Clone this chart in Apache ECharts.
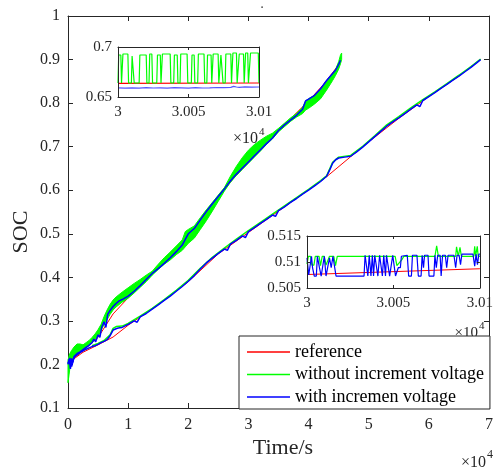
<!DOCTYPE html>
<html><head><meta charset="utf-8">
<script src="https://cdn.jsdelivr.net/npm/echarts@6/dist/echarts.min.js"></script>
<style>html,body{margin:0;padding:0;background:#fff}#c{width:496px;height:472px}</style>
</head><body><div id="c"></div>
<script>
// Main axes: time in units of 1e4 s, SOC
const xTickVals = [0,1,2,3,4,5,6,7];
const names = ['reference','without increment voltage','with incremen voltage'];

const redFast = [[0,0.203],[0.25,0.232],[0.5,0.262],[0.75,0.316],[1.0,0.353],[1.25,0.389],[1.5,0.424],[1.75,0.457],[2.0,0.496],[2.25,0.541],[2.5,0.585],[2.75,0.627],[3.0,0.664],[3.25,0.701],[3.5,0.740],[3.75,0.771],[4.0,0.805],[4.25,0.843],[4.5,0.888],[4.53,0.895]];
const redSlow = [[0,0.203],[0.25,0.228],[0.5,0.245],[0.75,0.263],[1.0,0.29],[1.5,0.337],[2.0,0.39],[2.5,0.454],[3.0,0.503],[3.5,0.552],[4.0,0.601],[4.3,0.631],[4.7,0.677],[5.0,0.711],[5.5,0.765],[6.0,0.815],[6.5,0.862],[6.86,0.9]];

// green (without increment voltage), fast charge: band envelope [x, lower, upper]
const greenFastBand = [[0,0.158,0.21],[0.03,0.19,0.225],[0.06,0.205,0.232],[0.1,0.215,0.24],[0.15,0.222,0.247],[0.2,0.228,0.247],[0.25,0.233,0.245],[0.3,0.238,0.25],[0.35,0.244,0.255],[0.4,0.25,0.262],[0.45,0.258,0.27],[0.5,0.265,0.28],[0.55,0.278,0.292],[0.6,0.292,0.31],[0.65,0.303,0.325],[0.7,0.315,0.338],[0.75,0.325,0.348],[0.8,0.332,0.355],[0.9,0.343,0.366],[1.0,0.352,0.376],[1.1,0.364,0.386],[1.2,0.377,0.395],[1.3,0.39,0.405],[1.4,0.405,0.414],[1.5,0.418,0.43],[1.6,0.43,0.445],[1.7,0.44,0.458],[1.8,0.452,0.472],[1.9,0.462,0.486],[1.95,0.47,0.505],[2.0,0.478,0.51],[2.1,0.49,0.518],[2.2,0.51,0.537],[2.3,0.53,0.555],[2.4,0.552,0.572],[2.5,0.575,0.589],[2.6,0.598,0.606],[2.7,0.618,0.632],[2.8,0.634,0.655],[2.9,0.648,0.675],[3.0,0.662,0.692],[3.1,0.676,0.705],[3.2,0.69,0.715],[3.3,0.705,0.724],[3.4,0.718,0.731],[3.5,0.734,0.742],[3.6,0.746,0.754],[3.7,0.758,0.766],[3.8,0.768,0.776],[3.9,0.776,0.79],[3.95,0.784,0.805],[4.0,0.788,0.81],[4.1,0.798,0.818],[4.2,0.81,0.832],[4.3,0.83,0.852],[4.4,0.852,0.868],[4.45,0.864,0.878],[4.5,0.878,0.895],[4.53,0.89,0.91],[4.55,0.9,0.915]];
const greenSlow = [[0.4,0.243],[0.5,0.248],[0.6,0.255],[0.7,0.268],[0.75,0.283],[0.8,0.287],[0.9,0.288],[1.0,0.294],[1.2,0.311],[1.4,0.329],[1.6,0.349],[1.8,0.37],[2.0,0.393],[2.2,0.421],[2.4,0.446],[2.6,0.467],[2.8,0.488],[3.0,0.507],[3.2,0.526],[3.4,0.545],[3.6,0.564],[3.8,0.583],[4.0,0.602],[4.2,0.622],[4.3,0.633],[4.4,0.664],[4.5,0.676],[4.7,0.680],[4.9,0.701],[5.1,0.725],[5.3,0.750],[5.5,0.769],[5.7,0.789],[5.9,0.808],[6.1,0.826],[6.3,0.845],[6.5,0.864],[6.7,0.884],[6.86,0.901]];

const blueFast = [[0,0.200],[0.02,0.212],[0.04,0.190],[0.06,0.214],[0.08,0.205],[0.1,0.218],[0.13,0.222],[0.16,0.226],[0.2,0.229],[0.25,0.234],[0.3,0.239],[0.35,0.244],[0.4,0.250],[0.43,0.258],[0.46,0.252],[0.5,0.268],[0.53,0.262],[0.56,0.285],[0.6,0.298],[0.63,0.285],[0.66,0.315],[0.7,0.324],[0.75,0.333],[0.8,0.340],[0.85,0.346],[0.9,0.349],[1.0,0.357],[1.1,0.368],[1.2,0.381],[1.3,0.395],[1.4,0.409],[1.5,0.420],[1.6,0.432],[1.7,0.445],[1.8,0.459],[1.9,0.474],[1.95,0.487],[2.0,0.500],[2.1,0.512],[2.2,0.532],[2.3,0.551],[2.4,0.569],[2.5,0.586],[2.6,0.603],[2.7,0.621],[2.8,0.637],[2.9,0.651],[3.0,0.665],[3.1,0.679],[3.2,0.693],[3.3,0.707],[3.4,0.720],[3.5,0.737],[3.6,0.750],[3.7,0.761],[3.8,0.772],[3.9,0.786],[3.95,0.805],[4.0,0.809],[4.1,0.818],[4.2,0.833],[4.3,0.852],[4.4,0.868],[4.45,0.876],[4.5,0.889],[4.53,0.898]];
const blueSlow = [[0,0.202],[0.03,0.215],[0.06,0.195],[0.1,0.216],[0.15,0.222],[0.2,0.227],[0.25,0.231],[0.3,0.235],[0.35,0.238],[0.4,0.241],[0.45,0.243],[0.5,0.246],[0.55,0.250],[0.6,0.253],[0.65,0.257],[0.7,0.266],[0.75,0.279],[0.78,0.281],[0.82,0.283],[0.86,0.284],[0.9,0.285],[1.0,0.292],[1.1,0.300],[1.15,0.297],[1.2,0.309],[1.3,0.317],[1.4,0.327],[1.5,0.337],[1.6,0.347],[1.7,0.357],[1.8,0.368],[1.9,0.379],[2.0,0.391],[2.1,0.404],[2.2,0.419],[2.3,0.433],[2.4,0.444],[2.5,0.455],[2.6,0.465],[2.65,0.462],[2.7,0.476],[2.8,0.485],[2.9,0.495],[2.95,0.491],[3.0,0.505],[3.1,0.514],[3.2,0.524],[3.3,0.533],[3.4,0.543],[3.45,0.540],[3.5,0.553],[3.6,0.562],[3.7,0.572],[3.8,0.581],[3.9,0.591],[4.0,0.600],[4.1,0.610],[4.2,0.620],[4.3,0.632],[4.35,0.646],[4.4,0.662],[4.45,0.670],[4.5,0.674],[4.6,0.676],[4.7,0.678],[4.8,0.688],[4.9,0.699],[5.0,0.711],[5.1,0.723],[5.2,0.735],[5.3,0.747],[5.4,0.757],[5.5,0.766],[5.6,0.776],[5.7,0.786],[5.8,0.796],[5.85,0.792],[5.9,0.806],[6.0,0.815],[6.1,0.824],[6.2,0.834],[6.3,0.843],[6.4,0.853],[6.5,0.862],[6.6,0.872],[6.7,0.882],[6.8,0.893],[6.86,0.900]];

// Inset 1 (fast charge, t = 30000..30100 s), [seconds after 30000, SOC]
const in1Red = [[0,0.6636],[100,0.6640]];
const in1Green = [[0,0.664],[0.5,0.692],[2,0.692],[2.5,0.664],[3,0.664],[3.5,0.693],[7,0.693],[7.5,0.664],[9.5,0.664],[10,0.691],[11,0.691],[11.5,0.664],[15,0.664],[15.5,0.692],[20,0.692],[20.5,0.664],[22,0.664],[22.5,0.693],[24,0.693],[24.5,0.664],[27.5,0.664],[28,0.692],[30,0.692],[30.5,0.664],[31,0.664],[31.5,0.693],[37,0.693],[37.5,0.664],[39.5,0.664],[40,0.692],[42,0.692],[42.5,0.664],[44,0.664],[44.5,0.693],[49,0.693],[49.5,0.664],[52,0.664],[52.5,0.692],[54,0.692],[54.5,0.664],[56.5,0.664],[57,0.693],[61,0.693],[61.5,0.664],[63,0.664],[63.5,0.692],[66,0.692],[66.5,0.664],[67,0.664],[67.5,0.693],[71,0.693],[71.5,0.664],[72.5,0.664],[73,0.692],[74,0.692],[74.5,0.664],[76,0.664],[76.5,0.693],[80,0.693],[80.5,0.664],[81,0.664],[81.5,0.694],[84,0.694],[84.5,0.664],[85.5,0.664],[86,0.693],[89,0.693],[89.5,0.664],[90,0.664],[90.5,0.694],[92,0.694],[92.5,0.664],[93.5,0.664],[94,0.694],[99.5,0.694],[100,0.664]];
const in1Blue = [[0,0.6592],[5,0.6588],[10,0.6591],[15,0.6589],[20,0.6594],[25,0.6590],[30,0.6592],[35,0.6588],[40,0.6593],[45,0.6591],[50,0.6589],[55,0.6594],[60,0.6590],[65,0.6592],[70,0.6595],[75,0.6593],[80,0.6596],[82,0.6606],[84,0.6600],[86,0.6597],[90,0.6602],[95,0.6598],[100,0.6600]];

// Inset 2 (slow charge, t = 30000..30100 s)
const in2Red = [[0,0.5076],[100,0.5087]];
const in2Green = [[0,0.5096],[0.8,0.5111],[2,0.5111],[2.8,0.5094],[4,0.5094],[4.8,0.5111],[7,0.5111],[7.8,0.5093],[8.8,0.5111],[10,0.5111],[11,0.5094],[12,0.5094],[13,0.5111],[15.5,0.5111],[16.5,0.5093],[17.5,0.5111],[51,0.5111],[52,0.5093],[53,0.5096],[55,0.5105],[56,0.5111],[74,0.5111],[75,0.5131],[76,0.5111],[86,0.5111],[86.5,0.5129],[87.5,0.5111],[88.5,0.5128],[89.3,0.5111],[96.5,0.5111],[97,0.5130],[97.5,0.5111],[98.5,0.5130],[99,0.5111],[100,0.5111]];
const in2Blue = [[0,0.5108],[1,0.5075],[2,0.5075],[2.6,0.5111],[3.2,0.5089],[4.2,0.5073],[5.4,0.5073],[6,0.5111],[6.6,0.5111],[7.2,0.5089],[8.2,0.5073],[9.2,0.5073],[10,0.5111],[11,0.5073],[12,0.5073],[13,0.5108],[14,0.5089],[15,0.5111],[16,0.5113],[16.8,0.5073],[33,0.5073],[33.6,0.5113],[34.5,0.5113],[35.2,0.5073],[36,0.5113],[37,0.5073],[37.8,0.5113],[38.5,0.5073],[39.2,0.5113],[40.2,0.5113],[41,0.5073],[42,0.5113],[42.8,0.5113],[43.6,0.5073],[44.4,0.5113],[45.4,0.5073],[46,0.5113],[47,0.5113],[47.8,0.5073],[48.8,0.5073],[49.6,0.5113],[50.4,0.5113],[51.2,0.5073],[52,0.5073],[52.8,0.5089],[54,0.5089],[54.6,0.5111],[58,0.5113],[58.8,0.5073],[60.4,0.5073],[61,0.5113],[63.6,0.5113],[64.4,0.5073],[66,0.5073],[66.6,0.5113],[67.4,0.5089],[68,0.5113],[70,0.5113],[70.6,0.5073],[73.4,0.5073],[74,0.5113],[74.8,0.5089],[75.6,0.5113],[77,0.5113],[77.6,0.5073],[78.4,0.5113],[80,0.5113],[80.8,0.5089],[81.6,0.5113],[85,0.5113],[86,0.5089],[86.8,0.5113],[88,0.5113],[88.8,0.5095],[89.6,0.5115],[96,0.5115],[97,0.5092],[97.8,0.5115],[98.6,0.5095],[99.4,0.5115],[100,0.5115]];

const SERIF = 'Liberation Serif, Times New Roman, serif';
const AX = '#262626';
const toInset = arr => arr.map(p => [3 + p[0] / 10000, p[1]]);
const fmt = v => String(parseFloat((+v).toFixed(4)));

function ax(grid, pos, min, max, interval, showLabel, fs, tickLen, margin, z) {
  return { gridIndex: grid, type: 'value', position: pos, min: min, max: max, interval: interval, z: z,
    axisLine: { show: true, onZero: false, lineStyle: { color: AX, width: 1 } },
    axisTick: { show: true, inside: true, length: tickLen, lineStyle: { color: AX } },
    axisLabel: { show: showLabel, fontFamily: SERIF, fontSize: fs, color: AX, margin: margin, formatter: fmt },
    splitLine: { show: false } };
}
function line(name, data, color, w, xi, yi, z) {
  return { type: 'line', name: name, data: data, xAxisIndex: xi, yAxisIndex: yi, showSymbol: false, symbol: 'none',
    silent: true, animation: false, z: z, color: color, lineStyle: { color: color, width: w } };
}

const chart = echarts.init(document.getElementById('c'), null, { renderer: 'canvas' });
chart.setOption({
  animation: false,
  backgroundColor: '#fff',
  grid: [
    { left: 68, top: 16, width: 421, height: 392, containLabel: false },
    { left: 118, top: 47, width: 141, height: 50, show: true, backgroundColor: '#fff', borderWidth: 0, z: 5 },
    { left: 307, top: 236, width: 177, height: 52, show: true, backgroundColor: '#fff', borderWidth: 0, z: 5 }
  ],
  xAxis: [
    ax(0, 'bottom', xTickVals[0], xTickVals[xTickVals.length - 1], 1, true, 16, 5, 9, 1),
    ax(0, 'top', xTickVals[0], xTickVals[xTickVals.length - 1], 1, false, 16, 5, 9, 1),
    ax(1, 'bottom', 3, 3.01, 0.005, true, 15, 3, 8, 9),
    ax(1, 'top', 3, 3.01, 0.005, false, 15, 3, 8, 9),
    ax(2, 'bottom', 3, 3.01, 0.005, true, 15, 3, 8, 9),
    ax(2, 'top', 3, 3.01, 0.005, false, 15, 3, 8, 9)
  ],
  yAxis: [
    ax(0, 'left', 0.1, 1, 0.1, true, 16, 5, 8, 1),
    ax(0, 'right', 0.1, 1, 0.1, false, 16, 5, 8, 1),
    ax(1, 'left', 0.65, 0.7, 0.05, true, 15, 3, 6, 9),
    ax(1, 'right', 0.65, 0.7, 0.05, false, 15, 3, 6, 9),
    ax(2, 'left', 0.505, 0.515, 0.005, true, 15, 3, 6, 9),
    ax(2, 'right', 0.505, 0.515, 0.005, false, 15, 3, 6, 9)
  ],
  legend: {
    orient: 'vertical', left: 239, top: 336, padding: [7, 6, 3, 8], itemGap: 4.5,
    itemWidth: 43, itemHeight: 1.5, backgroundColor: '#fff', borderColor: AX, borderWidth: 1, z: 10,
    textStyle: { fontFamily: SERIF, fontSize: 18, color: '#000' },
    data: [
      { name: names[0], icon: 'rect', itemStyle: { color: '#ff0000' } },
      { name: names[1], icon: 'rect', itemStyle: { color: '#00ff00' } },
      { name: names[2], icon: 'rect', itemStyle: { color: '#0000ff' } }
    ]
  },
  series: [
    line(names[0], redFast, '#ff0000', 1, 0, 0, 2),
    line(names[0], redSlow, '#ff0000', 1, 0, 0, 2),
    {
      type: 'custom', name: names[1], xAxisIndex: 0, yAxisIndex: 0, silent: true, z: 3, color: '#00ff00',
      data: [[greenFastBand[0][0], greenFastBand[0][1]]],
      renderItem: function (params, api) {
        const pts = [];
        for (let i = 0; i < greenFastBand.length; i++) pts.push(api.coord([greenFastBand[i][0], greenFastBand[i][1]]));
        for (let i = greenFastBand.length - 1; i >= 0; i--) pts.push(api.coord([greenFastBand[i][0], greenFastBand[i][2]]));
        return { type: 'polygon', shape: { points: pts }, style: { fill: '#00ff00', stroke: '#00ff00', lineWidth: 1 } };
      }
    },
    line(names[1], greenSlow, '#00ff00', 1.5, 0, 0, 3),
    line(names[2], blueFast, '#0000ff', 1.5, 0, 0, 4),
    line(names[2], blueSlow, '#0000ff', 1.5, 0, 0, 4),
    line(names[0], toInset(in1Red), '#ff0000', 1.2, 2, 2, 6),
    line(names[1], toInset(in1Green), '#00ff00', 1.2, 2, 2, 7),
    line(names[2], toInset(in1Blue), '#5555ff', 1.2, 2, 2, 8),
    line(names[0], toInset(in2Red), '#ff0000', 1.2, 4, 4, 6),
    line(names[1], toInset(in2Green), '#00ff00', 1.2, 4, 4, 7),
    line(names[2], toInset(in2Blue), '#0000ff', 1.2, 4, 4, 8)
  ],
  graphic: [
    { type: 'text', x: 21, y: 232, rotation: Math.PI / 2, style: { text: 'SOC', fontFamily: SERIF, fontSize: 22, fill: AX, align: 'center', verticalAlign: 'middle' } },
    { type: 'text', x: 283, y: 448, style: { text: 'Time/s', fontFamily: SERIF, fontSize: 22, fill: AX, align: 'center', verticalAlign: 'middle' } },
    { type: 'text', x: 486, y: 463, style: { text: '×10', fontFamily: SERIF, fontSize: 16, fill: AX, align: 'right', verticalAlign: 'middle' } },
    { type: 'text', x: 487, y: 455, style: { text: '4', fontFamily: SERIF, fontSize: 12, fill: AX, align: 'left', verticalAlign: 'middle' } },
    { type: 'text', x: 258, y: 139, style: { text: '×10', fontFamily: SERIF, fontSize: 16, fill: AX, align: 'right', verticalAlign: 'middle' } },
    { type: 'text', x: 259, y: 132, style: { text: '4', fontFamily: SERIF, fontSize: 11, fill: AX, align: 'left', verticalAlign: 'middle' } },
    { type: 'text', x: 478, y: 333, style: { text: '×10', fontFamily: SERIF, fontSize: 15, fill: AX, align: 'right', verticalAlign: 'middle' } },
    { type: 'text', x: 479, y: 326, style: { text: '4', fontFamily: SERIF, fontSize: 11, fill: AX, align: 'left', verticalAlign: 'middle' } },
    { type: 'text', x: 262, y: 8, style: { text: '·', fontFamily: SERIF, fontSize: 14, fill: '#444', align: 'center', verticalAlign: 'middle' } }
  ]
});
</script></body></html>
